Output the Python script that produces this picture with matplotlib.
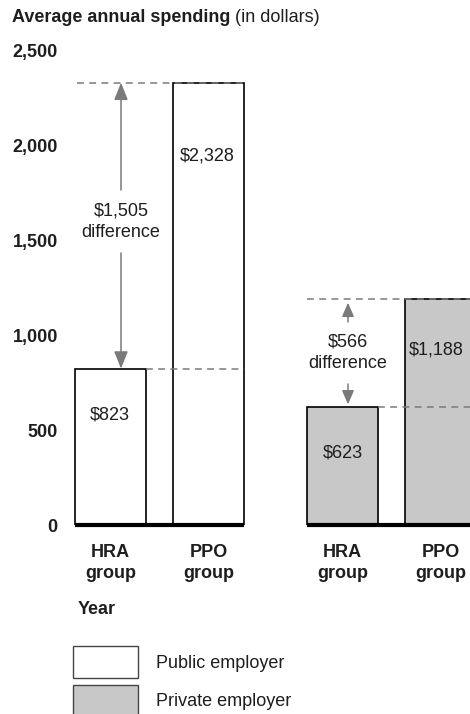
import matplotlib
matplotlib.use("Agg")
import matplotlib.pyplot as plt
from matplotlib.patches import Rectangle

plt.rcParams['font.family'] = ['Liberation Sans', 'DejaVu Sans']

# Data
groups = ["HRA\ngroup", "PPO\ngroup"]
public_values = [823, 2328]
private_values = [623, 1188]
differences = [1505, 566]  # public, private (as reported)
yticks = [0, 500, 1000, 1500, 2000, 2500]
ytick_labels = ["0", "500", "1,000", "1,500", "2,000", "2,500"]
legend_labels = ["Public employer", "Private employer"]

W, H, DPI = 470, 714, 100
fig = plt.figure(figsize=(W / DPI, H / DPI), dpi=DPI)

def fx(px):
    return px / W

def fy(py):
    return 1 - py / H

FS = 13
TEXT = "#1e1e1e"
GRAY_FILL = "#c8c8c8"
ARROW_GRAY = "#7a7a7a"

# Axes: left edge 62px, right 470px, baseline 525px, top (2500) 50px
ax = fig.add_axes([fx(62), fy(525), fx(470 - 62), (525 - 50) / H])
pitch = 98.0
x_left = (62 - 110.5) / pitch
x_right = (470 - 110.5) / pitch
ax.set_xlim(x_left, x_right)
ax.set_ylim(0, 2500)
bar_w = 71 / pitch
px_per_unit = 475 / 2500

pub_x = [0, 1]
priv_x = [2.367, 3.367]

ax.bar(pub_x, public_values, width=bar_w, color="white", edgecolor="black",
       linewidth=1.2, zorder=2)
ax.bar(priv_x, private_values, width=bar_w, color=GRAY_FILL, edgecolor="black",
       linewidth=1.2, zorder=2)

# Thick baselines under each group
ax.plot([pub_x[0] - bar_w / 2, pub_x[1] + bar_w / 2], [0, 0], color="black",
        lw=3.0, solid_capstyle="butt", zorder=4, clip_on=False)
ax.plot([priv_x[0] - bar_w / 2, x_right], [0, 0], color="black",
        lw=3.0, solid_capstyle="butt", zorder=4, clip_on=False)

# Dashed reference lines (drawn over the bars)
dash = dict(color=ARROW_GRAY, lw=1.1, ls=(0, (4.5, 3.5)), zorder=3)
ax.plot([pub_x[0] - bar_w / 2 + 0.02, pub_x[1] + bar_w / 2], [public_values[1]] * 2, **dash)
ax.plot([pub_x[0] + bar_w / 2, pub_x[1] + bar_w / 2], [public_values[0]] * 2, **dash)
ax.plot([priv_x[0] - bar_w / 2, x_right], [private_values[1]] * 2, **dash)
ax.plot([priv_x[0] + bar_w / 2, x_right], [private_values[0]] * 2, **dash)

# Difference arrows with labels
def diff_arrow(x, diff, tip_lo, tip_hi, text_y, gap_lo, gap_hi, head):
    style = f"-|>,head_length={head[0]},head_width={head[1]}"
    ax.annotate("", xy=(x, tip_hi), xytext=(x, gap_hi),
                arrowprops=dict(arrowstyle=style, color=ARROW_GRAY, lw=1.1,
                                shrinkA=0, shrinkB=0, mutation_scale=14))
    ax.annotate("", xy=(x, tip_lo), xytext=(x, gap_lo),
                arrowprops=dict(arrowstyle=style, color=ARROW_GRAY, lw=1.1,
                                shrinkA=0, shrinkB=0, mutation_scale=14))
    ax.text(x, text_y, f"${diff:,}\ndifference", ha="center", va="center",
            fontsize=FS, color=TEXT, linespacing=1.32)

pub_arrow_x = (121 - 110.5) / pitch
diff_arrow(pub_arrow_x, differences[0], public_values[0], public_values[1],
           (525 - 221.5) / px_per_unit, (525 - 253) / px_per_unit,
           (525 - 190) / px_per_unit, (0.75, 0.3))
priv_arrow_x = (348 - 110.5) / pitch
diff_arrow(priv_arrow_x, differences[1], private_values[0] + 12, private_values[1] - 18,
           (525 - 352.5) / px_per_unit, (525 - 384) / px_per_unit,
           (525 - 322) / px_per_unit, (0.6, 0.26))

# Value labels inside bars
ax.text(pub_x[0] - 0.01, (525 - 415) / px_per_unit, f"${public_values[0]:,}",
        ha="center", va="center", fontsize=FS, color=TEXT)
ax.text(pub_x[1] - 0.01, (525 - 156) / px_per_unit, f"${public_values[1]:,}",
        ha="center", va="center", fontsize=FS, color=TEXT)
ax.text(priv_x[0], (525 - 453) / px_per_unit, f"${private_values[0]:,}",
        ha="center", va="center", fontsize=FS, color=TEXT)
ax.text(priv_x[1] - 0.04, (525 - 350) / px_per_unit, f"${private_values[1]:,}",
        ha="center", va="center", fontsize=FS, color=TEXT)

# Axis styling
for s in ax.spines.values():
    s.set_visible(False)
ax.set_yticks(yticks)
ax.set_yticklabels(ytick_labels, fontsize=FS, fontweight="bold", color=TEXT)
ax.tick_params(axis="y", length=0, pad=3)
ax.set_xticks(pub_x + priv_x)
ax.set_xticklabels(groups * 2, fontsize=FS, fontweight="bold", color=TEXT,
                   linespacing=1.32)
ax.tick_params(axis="x", length=0, pad=13.5)

# Title
t = fig.text(fx(12), fy(18), "Average annual spending", fontsize=FS,
             fontweight="bold", ha="left", va="center", color=TEXT)
renderer = fig.canvas.get_renderer()
bb = t.get_window_extent(renderer)
fig.text(bb.x1 / W, fy(18), " (in dollars)", fontsize=FS, ha="left", va="center",
         color=TEXT)

# "Year" label
fig.text(fx(78), fy(610), "Year", fontsize=FS, fontweight="bold", ha="left",
         va="center", color=TEXT)

# Legend
fig.add_artist(Rectangle((fx(73), fy(678)), fx(65), (678 - 646) / H,
                         facecolor="white", edgecolor="#444444", lw=1,
                         transform=fig.transFigure))
fig.add_artist(Rectangle((fx(73), fy(720)), fx(65), (720 - 685) / H,
                         facecolor=GRAY_FILL, edgecolor="#444444", lw=1,
                         transform=fig.transFigure))
fig.text(fx(156), fy(663), legend_labels[0], fontsize=FS, ha="left", va="center",
         color=TEXT)
fig.text(fx(156), fy(702), legend_labels[1], fontsize=FS, ha="left", va="center",
         color=TEXT)

fig.savefig("out.png", dpi=DPI)
